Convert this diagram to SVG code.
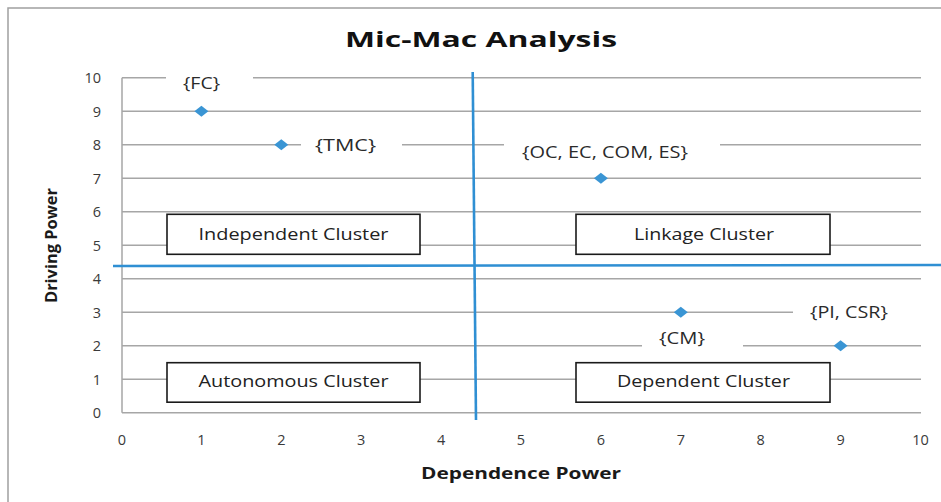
<svg xmlns="http://www.w3.org/2000/svg" width="941" height="502" viewBox="0 0 941 502">
  <style>
    .grid { stroke: #a6a6a6; stroke-width: 1.5; fill: none; }
    .divider { stroke: #2f8fd3; stroke-width: 2.6; fill: none; }
    .tick { font-family: "Open Sans", "Liberation Sans", sans-serif; font-size: 14.5px; fill: #3a3a3a; }
    .ptlabel { font-family: "Open Sans", "Liberation Sans", sans-serif; font-size: 15.5px; fill: #2a2a2a; }
    .cluster-box { fill: #ffffff; stroke: #1a1a1a; stroke-width: 1.6; }
    .cluster-text { font-family: "Open Sans", "Liberation Sans", sans-serif; font-size: 16.5px; fill: #222222; text-anchor: middle; }
    .axis-title { font-family: "Open Sans", "Liberation Sans", sans-serif; font-size: 16px; font-weight: bold; fill: #1a1a1a; }
    .mask { fill: #ffffff; stroke: none; }
    .marker { fill: #3a95d4; }
  </style>
  <defs>
    <path id="diamond" d="M -7 0 L 0 -5.5 L 7 0 L 0 5.5 Z"/>
  </defs>

  <rect x="0" y="0" width="941" height="502" fill="#ffffff"/>
  <!-- chart frame -->
  <rect x="8" y="8" width="945" height="510" fill="none" stroke="#a0a0a0" stroke-width="1.5"/>

  <!-- title -->
  <text x="345" y="47" font-family="'Open Sans', 'Liberation Sans', sans-serif" font-size="21.5" font-weight="bold" fill="#111111" textLength="272" lengthAdjust="spacingAndGlyphs">Mic-Mac Analysis</text>

  <!-- gridlines (y = 0..10) and left axis -->
  <g id="gridlines">
    <line class="grid" x1="122" y1="77.7" x2="122" y2="412.7"/>
    <line class="grid" x1="122" y1="77.7" x2="921" y2="77.7"/>
    <line class="grid" x1="122" y1="111.2" x2="921" y2="111.2"/>
    <line class="grid" x1="122" y1="144.7" x2="921" y2="144.7"/>
    <line class="grid" x1="122" y1="178.2" x2="921" y2="178.2"/>
    <line class="grid" x1="122" y1="211.7" x2="921" y2="211.7"/>
    <line class="grid" x1="122" y1="245.2" x2="921" y2="245.2"/>
    <line class="grid" x1="122" y1="278.7" x2="921" y2="278.7"/>
    <line class="grid" x1="122" y1="312.2" x2="921" y2="312.2"/>
    <line class="grid" x1="122" y1="345.7" x2="921" y2="345.7"/>
    <line class="grid" x1="122" y1="379.2" x2="921" y2="379.2"/>
    <line class="grid" x1="122" y1="412.7" x2="921" y2="412.7"/>
  </g>

  <!-- y tick labels -->
  <g id="y-ticks" class="tick" text-anchor="end">
    <text x="101" y="83">10</text>
    <text x="101" y="116.5">9</text>
    <text x="101" y="150">8</text>
    <text x="101" y="183.5">7</text>
    <text x="101" y="217">6</text>
    <text x="101" y="250.5">5</text>
    <text x="101" y="284">4</text>
    <text x="101" y="317.5">3</text>
    <text x="101" y="351">2</text>
    <text x="101" y="384.5">1</text>
    <text x="101" y="418">0</text>
  </g>

  <!-- x tick labels -->
  <g id="x-ticks" class="tick" text-anchor="middle">
    <text x="122" y="445">0</text>
    <text x="201.4" y="445">1</text>
    <text x="281.3" y="445">2</text>
    <text x="361.2" y="445">3</text>
    <text x="441.1" y="445">4</text>
    <text x="521" y="445">5</text>
    <text x="600.9" y="445">6</text>
    <text x="680.8" y="445">7</text>
    <text x="760.7" y="445">8</text>
    <text x="840.6" y="445">9</text>
    <text x="920.5" y="445">10</text>
  </g>

  <!-- axis titles -->
  <text class="axis-title" x="421" y="479" textLength="200" lengthAdjust="spacingAndGlyphs">Dependence Power</text>
  <text class="axis-title" transform="translate(57 303) rotate(-90)" x="0" y="0" textLength="115" lengthAdjust="spacingAndGlyphs">Driving Power</text>

  <!-- quadrant dividers -->
  <g id="connectors">
    <line class="divider" x1="472.7" y1="72" x2="476" y2="420"/>
    <line class="divider" x1="113" y1="266" x2="941" y2="265"/>
  </g>

  <!-- data points -->
  <g id="points">
    <use href="#diamond" class="marker" x="201.4" y="111.2"/>
    <use href="#diamond" class="marker" x="281.3" y="144.7"/>
    <use href="#diamond" class="marker" x="600.9" y="178.2"/>
    <use href="#diamond" class="marker" x="680.8" y="312.2"/>
    <use href="#diamond" class="marker" x="840.6" y="345.7"/>
  </g>

  <!-- point labels -->
  <g id="label-fc">
    <rect class="mask" x="166" y="68" width="87" height="24"/>
    <text class="ptlabel" x="183" y="89" textLength="37" lengthAdjust="spacingAndGlyphs">{FC}</text>
  </g>
  <g id="label-tmc">
    <rect class="mask" x="301" y="134" width="101" height="24"/>
    <text class="ptlabel" x="315" y="151" textLength="61" lengthAdjust="spacingAndGlyphs">{TMC}</text>
  </g>
  <g id="label-oc-ec-com-es">
    <rect class="mask" x="504" y="136" width="216" height="26"/>
    <text class="ptlabel" x="522" y="158" textLength="166" lengthAdjust="spacingAndGlyphs">{OC, EC, COM, ES}</text>
  </g>
  <g id="label-pi-csr">
    <rect class="mask" x="793" y="300" width="130" height="24"/>
    <text class="ptlabel" x="810" y="318" textLength="78" lengthAdjust="spacingAndGlyphs">{PI, CSR}</text>
  </g>
  <g id="label-cm">
    <rect class="mask" x="642" y="328" width="101" height="26"/>
    <text class="ptlabel" x="659" y="344" textLength="46" lengthAdjust="spacingAndGlyphs">{CM}</text>
  </g>

  <!-- cluster boxes -->
  <g id="independent-cluster">
    <rect class="cluster-box" x="167" y="214.3" width="253" height="40"/>
    <text class="cluster-text" x="293.5" y="239.5" textLength="190" lengthAdjust="spacingAndGlyphs">Independent Cluster</text>
  </g>
  <g id="linkage-cluster">
    <rect class="cluster-box" x="576" y="214.3" width="254" height="40"/>
    <text class="cluster-text" x="704" y="239.5" textLength="140" lengthAdjust="spacingAndGlyphs">Linkage Cluster</text>
  </g>
  <g id="autonomous-cluster">
    <rect class="cluster-box" x="167" y="362.7" width="253" height="39.5"/>
    <text class="cluster-text" x="293.5" y="387" textLength="190" lengthAdjust="spacingAndGlyphs">Autonomous Cluster</text>
  </g>
  <g id="dependent-cluster">
    <rect class="cluster-box" x="576" y="362.7" width="254" height="39.5"/>
    <text class="cluster-text" x="703.5" y="387" textLength="173" lengthAdjust="spacingAndGlyphs">Dependent Cluster</text>
  </g>
</svg>
